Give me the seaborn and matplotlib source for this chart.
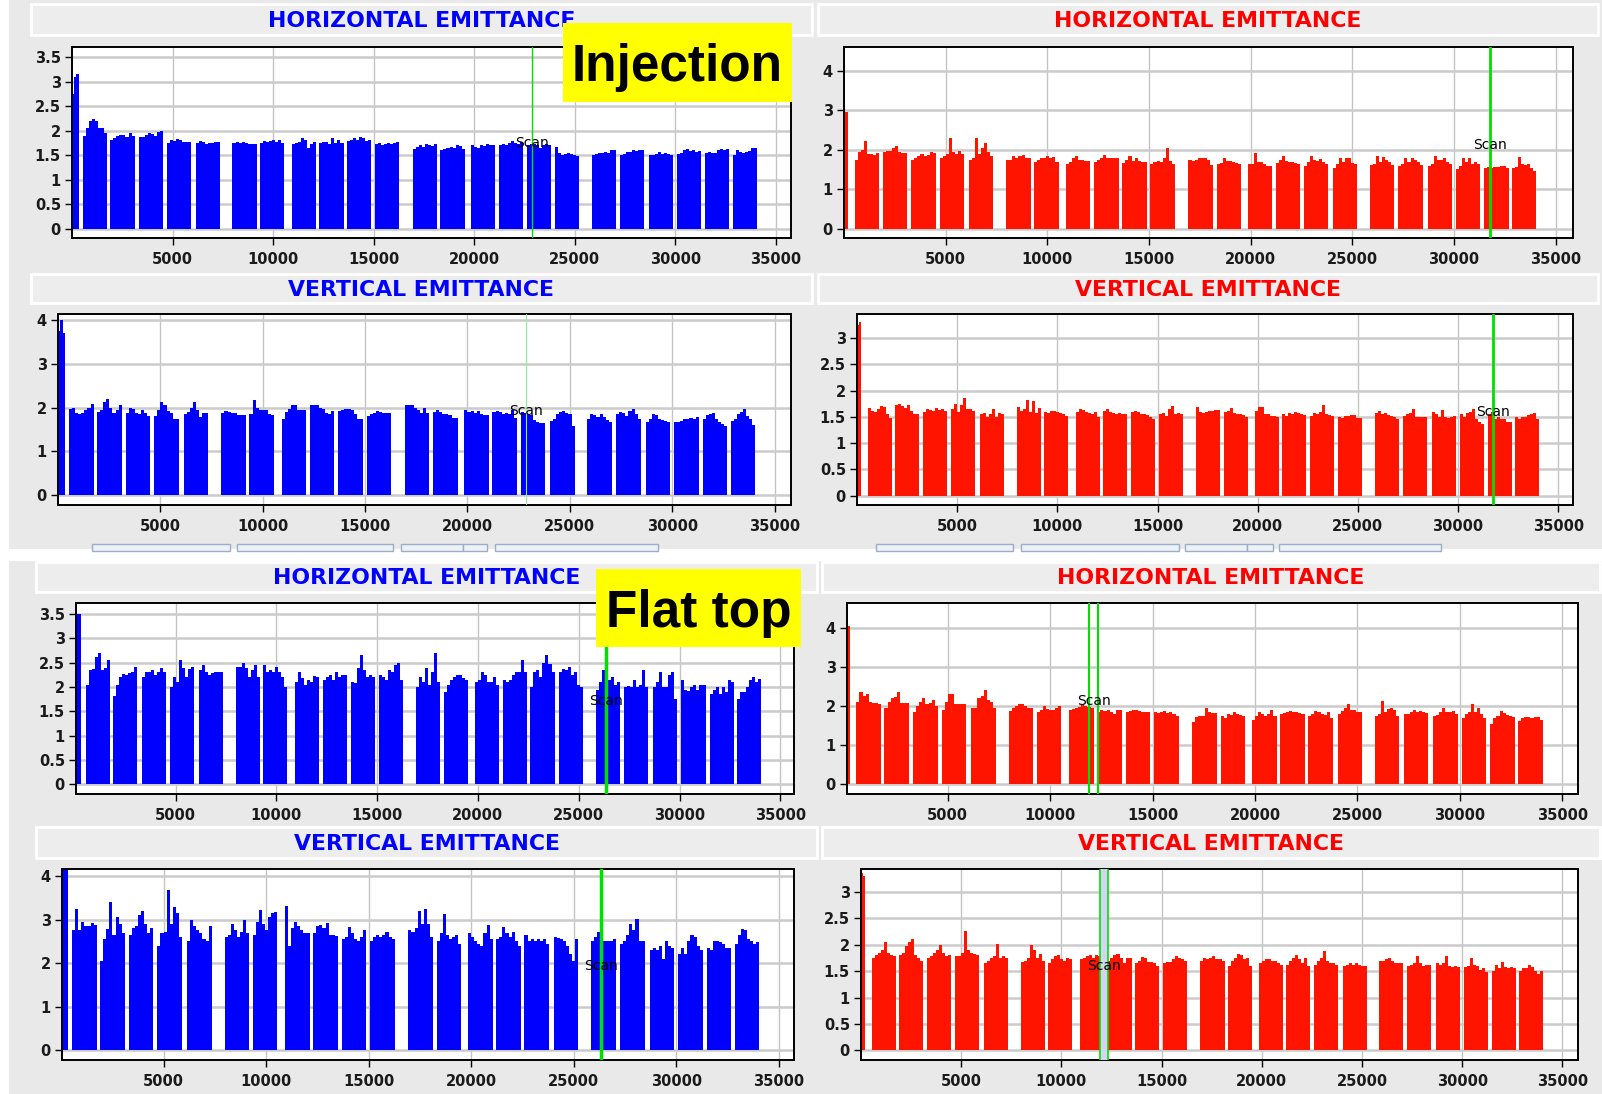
import numpy as np
import pandas as pd
import matplotlib
matplotlib.use("Agg")
import matplotlib.pyplot as plt
import seaborn as sns
from matplotlib.patches import Rectangle
from matplotlib.ticker import FuncFormatter

sns.set_theme(style="whitegrid")
plt.rcParams["font.family"] = ["DejaVu Sans"]

# ---------------------------------------------------------------- data
# start slot of every injected batch (same filling scheme for both beams)
batch_start = [540, 1910, 3310, 4700, 6150, 7980, 9350, 10920, 12300, 13690,
               15070, 16940, 18320, 19850, 21220, 22600, 24030, 25850, 27260,
               28700, 30090, 31490, 32850]
batch_width = 1200
x_ticks = [5000, 10000, 15000, 20000, 25000, 30000, 35000]

# pilot bunches at the start of the ring
pilot_span_b1 = (0, 330)
pilot_span_b2 = (0, 210)

# ---- Injection, horizontal, beam 1
inj_h_b1_pilot = [2.75, 3.1, 3.15]
inj_h_b1 = [
    [1.9, 2.05, 2.2, 2.25, 2.2, 2.05, 2.05, 1.95],
    [1.82, 1.85, 1.9, 1.92, 1.92, 1.88, 1.95, 1.9],
    [1.87, 1.88, 1.92, 1.95, 1.93, 1.9, 1.97, 2.0],
    [1.75, 1.82, 1.8, 1.83, 1.82, 1.78, 1.77, 1.77],
    [1.75, 1.8, 1.77, 1.73, 1.76, 1.75, 1.77, 1.77],
    [1.75, 1.77, 1.76, 1.78, 1.74, 1.73, 1.72, 1.73],
    [1.75, 1.8, 1.78, 1.8, 1.82, 1.78, 1.82, 1.75],
    [1.72, 1.74, 1.78, 1.85, 1.82, 1.65, 1.72, 1.77],
    [1.75, 1.77, 1.77, 1.72, 1.85, 1.76, 1.82, 1.75],
    [1.8, 1.82, 1.85, 1.82, 1.87, 1.85, 1.8, 1.82],
    [1.72, 1.75, 1.7, 1.72, 1.76, 1.72, 1.75, 1.77],
    [1.63, 1.67, 1.7, 1.67, 1.72, 1.7, 1.68, 1.73],
    [1.6, 1.63, 1.65, 1.67, 1.65, 1.7, 1.68, 1.62],
    [1.7, 1.67, 1.65, 1.7, 1.68, 1.72, 1.7, 1.7],
    [1.7, 1.72, 1.7, 1.75, 1.8, 1.75, 1.72, 1.78],
    [1.7, 1.72, 1.73, 1.7, 1.65, 1.7, 1.72, 1.7],
    [1.67, 1.55, 1.5, 1.53, 1.55, 1.52, 1.5, 1.48],
    [1.5, 1.53, 1.55, 1.55, 1.57, 1.55, 1.6, 1.6],
    [1.5, 1.53, 1.57, 1.57, 1.6, 1.58, 1.6, 1.6],
    [1.5, 1.5, 1.52, 1.57, 1.53, 1.55, 1.52, 1.5],
    [1.53, 1.55, 1.6, 1.62, 1.58, 1.6, 1.57, 1.58],
    [1.55, 1.57, 1.55, 1.55, 1.6, 1.62, 1.6, 1.62],
    [1.5, 1.6, 1.57, 1.55, 1.57, 1.58, 1.65, 1.65],
]

# ---- Injection, horizontal, beam 2
inj_h_b2_pilot = [2.97, 2.97]
inj_h_b2 = [
    [1.75, 1.95, 2.0, 2.23, 1.9, 1.9, 1.88, 1.92],
    [1.95, 1.97, 1.97, 2.05, 2.1, 1.95, 1.93, 1.93],
    [1.75, 1.8, 1.85, 1.9, 1.85, 1.88, 1.95, 1.93],
    [1.8, 1.85, 1.9, 2.3, 1.95, 1.9, 1.97, 1.9],
    [1.75, 1.78, 2.3, 1.9, 2.05, 2.18, 1.95, 1.85],
    [1.73, 1.75, 1.83, 1.78, 1.85, 1.87, 1.8, 1.8],
    [1.7, 1.75, 1.8, 1.78, 1.83, 1.8, 1.82, 1.68],
    [1.65, 1.7, 1.78, 1.83, 1.75, 1.75, 1.72, 1.72],
    [1.7, 1.75, 1.8, 1.88, 1.8, 1.78, 1.78, 1.78],
    [1.67, 1.73, 1.85, 1.72, 1.8, 1.72, 1.7, 1.7],
    [1.65, 1.7, 1.72, 1.68, 1.78, 2.05, 1.72, 1.65],
    [1.73, 1.72, 1.75, 1.8, 1.78, 1.8, 1.75, 1.62],
    [1.65, 1.67, 1.8, 1.72, 1.72, 1.7, 1.67, 1.63],
    [1.65, 1.65, 1.93, 1.7, 1.68, 1.65, 1.6, 1.6],
    [1.67, 1.75, 1.85, 1.72, 1.7, 1.7, 1.67, 1.65],
    [1.6, 1.7, 1.85, 1.75, 1.72, 1.77, 1.7, 1.63],
    [1.55, 1.65, 1.78, 1.7, 1.8, 1.78, 1.67, 1.65],
    [1.62, 1.63, 1.85, 1.7, 1.82, 1.75, 1.7, 1.62],
    [1.6, 1.65, 1.8, 1.7, 1.8, 1.75, 1.7, 1.62],
    [1.6, 1.65, 1.83, 1.73, 1.75, 1.8, 1.68, 1.65],
    [1.52, 1.6, 1.78, 1.68, 1.8, 1.65, 1.7, 1.65],
    [1.55, 1.57, 1.55, 1.57, 1.57, 1.58, 1.58, 1.55],
    [1.55, 1.57, 1.82, 1.65, 1.62, 1.65, 1.55, 1.45],
]

# ---- Injection, vertical, beam 1
inj_v_b1_pilot = [3.75, 4.0, 3.7]
inj_v_b1 = [
    [1.97, 2.0, 1.88, 1.85, 1.87, 1.95, 2.0, 2.07],
    [1.9, 1.95, 2.12, 2.2, 2.0, 1.88, 1.95, 2.05],
    [1.88, 2.0, 1.97, 1.88, 1.85, 1.95, 1.88, 1.8],
    [1.8, 1.95, 2.12, 2.05, 1.92, 1.88, 1.75, 1.73],
    [1.85, 1.9, 2.0, 2.12, 1.95, 1.78, 1.88, 1.88],
    [1.88, 1.93, 1.9, 1.87, 1.87, 1.82, 1.83, 1.83],
    [1.85, 2.18, 2.0, 1.95, 1.95, 1.95, 1.85, 1.83],
    [1.75, 1.9, 1.97, 2.05, 2.05, 1.95, 1.95, 1.95],
    [2.05, 2.05, 2.05, 2.0, 1.97, 1.87, 1.85, 1.93],
    [1.92, 1.95, 1.97, 1.97, 1.95, 1.85, 1.75, 1.75],
    [1.8, 1.85, 1.88, 1.92, 1.9, 1.87, 1.87, 1.88],
    [2.05, 2.05, 2.05, 2.0, 1.95, 1.88, 1.98, 1.88],
    [1.9, 1.95, 1.9, 1.85, 1.85, 1.83, 1.77, 1.77],
    [1.95, 1.9, 1.92, 1.87, 1.92, 1.85, 1.83, 1.83],
    [1.9, 1.93, 1.9, 1.85, 1.88, 1.85, 1.95, 1.77],
    [1.9, 1.88, 1.85, 1.82, 1.72, 1.68, 1.65, 1.65],
    [1.7, 1.75, 1.85, 1.9, 1.92, 1.88, 1.85, 1.57],
    [1.73, 1.85, 1.83, 1.78, 1.85, 1.78, 1.72, 1.68],
    [1.85, 1.9, 1.88, 1.8, 1.93, 1.97, 1.85, 1.75],
    [1.68, 1.75, 1.85, 1.83, 1.75, 1.72, 1.7, 1.68],
    [1.68, 1.68, 1.7, 1.75, 1.73, 1.77, 1.75, 1.78],
    [1.75, 1.82, 1.85, 1.88, 1.75, 1.68, 1.62, 1.57],
    [1.7, 1.73, 1.85, 1.9, 1.97, 1.8, 1.75, 1.6],
]

# ---- Injection, vertical, beam 2
inj_v_b2_pilot = [3.25, 3.3]
inj_v_b2 = [
    [1.67, 1.62, 1.6, 1.65, 1.7, 1.68, 1.55, 1.48],
    [1.72, 1.75, 1.7, 1.67, 1.73, 1.62, 1.55, 1.55],
    [1.6, 1.65, 1.63, 1.62, 1.67, 1.63, 1.65, 1.62],
    [1.65, 1.75, 1.6, 1.72, 1.85, 1.65, 1.65, 1.62],
    [1.55, 1.58, 1.5, 1.55, 1.65, 1.5, 1.57, 1.55],
    [1.68, 1.62, 1.65, 1.82, 1.6, 1.8, 1.58, 1.67],
    [1.6, 1.58, 1.62, 1.62, 1.6, 1.58, 1.55, 1.52],
    [1.6, 1.65, 1.63, 1.6, 1.58, 1.55, 1.6, 1.5],
    [1.62, 1.65, 1.6, 1.58, 1.55, 1.57, 1.55, 1.55],
    [1.6, 1.62, 1.6, 1.55, 1.55, 1.53, 1.5, 1.45],
    [1.55, 1.58, 1.52, 1.65, 1.7, 1.55, 1.58, 1.55],
    [1.68, 1.6, 1.58, 1.6, 1.62, 1.62, 1.63, 1.63],
    [1.6, 1.62, 1.67, 1.58, 1.55, 1.55, 1.53, 1.5],
    [1.62, 1.68, 1.68, 1.55, 1.55, 1.52, 1.52, 1.5],
    [1.55, 1.52, 1.58, 1.55, 1.6, 1.58, 1.55, 1.53],
    [1.52, 1.58, 1.55, 1.6, 1.72, 1.55, 1.53, 1.52],
    [1.5, 1.48, 1.52, 1.52, 1.53, 1.53, 1.48, 1.48],
    [1.58, 1.62, 1.55, 1.58, 1.53, 1.52, 1.5, 1.45],
    [1.52, 1.55, 1.57, 1.65, 1.5, 1.5, 1.5, 1.5],
    [1.6, 1.55, 1.5, 1.63, 1.5, 1.48, 1.5, 1.52],
    [1.55, 1.5, 1.57, 1.6, 1.65, 1.45, 1.4, 1.37],
    [1.55, 1.6, 1.45, 1.5, 1.45, 1.45, 1.4, 1.4],
    [1.5, 1.45, 1.5, 1.5, 1.53, 1.55, 1.58, 1.45],
]

# ---- Flat top, horizontal, beam 1
ft_h_b1_pilot = [3.1, 3.5, 3.5]
ft_h_b1 = [
    [2.05, 2.35, 2.38, 2.62, 2.7, 2.35, 2.4, 2.55],
    [1.82, 2.05, 2.2, 2.27, 2.25, 2.28, 2.32, 2.42],
    [2.2, 2.32, 2.32, 2.35, 2.25, 2.3, 2.4, 2.32],
    [2.0, 2.2, 2.1, 2.55, 2.4, 2.2, 2.38, 2.42],
    [2.35, 2.45, 2.3, 2.25, 2.28, 2.3, 2.32, 2.3],
    [2.42, 2.42, 2.5, 2.4, 2.2, 2.35, 2.45, 2.2],
    [2.45, 2.3, 2.35, 2.32, 2.42, 2.3, 2.2, 2.0],
    [2.1, 2.3, 2.18, 2.05, 2.15, 2.1, 2.22, 2.2],
    [2.15, 2.2, 2.25, 2.15, 2.3, 2.2, 2.25, 2.25],
    [2.1, 2.08, 2.4, 2.65, 2.35, 2.2, 2.25, 2.2],
    [2.25, 2.2, 2.15, 2.35, 2.3, 2.45, 2.5, 2.15],
    [2.0, 2.2, 2.1, 2.4, 2.05, 2.3, 2.7, 2.1],
    [1.9, 2.05, 2.15, 2.2, 2.25, 2.25, 2.18, 2.15],
    [2.1, 2.15, 2.3, 2.25, 2.1, 2.1, 2.2, 2.05],
    [2.15, 2.1, 2.15, 2.25, 2.3, 2.3, 2.55, 2.3],
    [2.0, 2.3, 2.35, 2.2, 2.5, 2.65, 2.48, 2.3],
    [2.3, 2.38, 2.35, 2.42, 2.25, 2.3, 2.05, 2.0],
    [1.95, 2.1, 2.35, 2.25, 2.15, 2.2, 2.05, 2.1],
    [2.0, 2.02, 2.0, 2.15, 2.0, 2.05, 2.35, 2.0],
    [2.0, 2.1, 2.3, 2.0, 2.0, 2.25, 2.3, 1.75],
    [2.15, 1.95, 1.92, 2.0, 2.05, 1.95, 2.05, 2.05],
    [1.85, 1.95, 2.0, 1.85, 2.0, 1.9, 2.15, 2.1],
    [1.75, 1.9, 1.9, 2.0, 2.15, 2.2, 2.1, 2.17],
]

# ---- Flat top, horizontal, beam 2
ft_h_b2_pilot = [4.0, 4.05]
ft_h_b2 = [
    [2.1, 2.35, 2.25, 2.3, 2.1, 2.08, 2.08, 2.05],
    [1.95, 2.1, 2.2, 2.22, 2.35, 2.08, 2.08, 2.08],
    [1.85, 2.0, 2.1, 2.2, 2.05, 2.08, 2.15, 2.0],
    [1.9, 2.1, 2.3, 2.3, 2.05, 2.05, 2.05, 2.05],
    [1.95, 1.95, 2.2, 2.25, 2.4, 2.15, 2.1, 1.95],
    [1.88, 1.95, 2.0, 2.05, 2.05, 2.0, 1.95, 1.95],
    [1.85, 1.9, 2.0, 1.93, 1.9, 1.9, 1.95, 2.0],
    [1.9, 1.92, 1.95, 1.98, 2.05, 2.0, 1.97, 1.95],
    [1.85, 1.9, 1.88, 1.9, 1.85, 1.8, 1.9, 1.9],
    [1.85, 1.88, 1.9, 1.9, 1.88, 1.85, 1.85, 1.85],
    [1.85, 1.82, 1.85, 1.87, 1.82, 1.85, 1.8, 1.75],
    [1.6, 1.72, 1.75, 1.75, 1.95, 1.85, 1.82, 1.82],
    [1.75, 1.7, 1.8, 1.78, 1.85, 1.8, 1.78, 1.75],
    [1.65, 1.75, 1.85, 1.8, 1.75, 1.8, 1.9, 1.75],
    [1.8, 1.82, 1.85, 1.87, 1.85, 1.85, 1.83, 1.8],
    [1.75, 1.8, 1.88, 1.85, 1.8, 1.78, 1.85, 1.7],
    [1.8, 1.88, 1.95, 2.05, 1.9, 1.9, 1.85, 1.85],
    [1.75, 1.8, 2.12, 1.85, 1.92, 1.95, 1.9, 1.75],
    [1.8, 1.8, 1.85, 1.9, 1.85, 1.88, 1.85, 1.82],
    [1.75, 1.78, 1.85, 1.95, 1.85, 1.85, 1.88, 1.8],
    [1.7, 1.8, 1.85, 2.05, 1.85, 1.95, 1.8, 1.7],
    [1.55, 1.7, 1.75, 1.88, 1.82, 1.78, 1.75, 1.72],
    [1.62, 1.68, 1.72, 1.72, 1.7, 1.72, 1.72, 1.65],
]

# ---- Flat top, vertical, beam 1
ft_v_b1_pilot = [4.3, 4.3, 4.3]
ft_v_b1 = [
    [2.75, 3.25, 2.75, 2.95, 2.85, 2.85, 2.92, 2.88],
    [2.05, 2.55, 2.78, 3.4, 2.65, 3.05, 2.9, 2.7],
    [2.65, 2.8, 2.85, 3.1, 3.2, 2.9, 2.7, 2.8],
    [2.4, 2.7, 2.72, 3.68, 2.9, 3.28, 3.15, 2.6],
    [2.5, 3.0, 2.85, 2.75, 2.7, 2.55, 2.5, 2.85],
    [2.6, 2.65, 2.9, 2.75, 2.6, 2.72, 3.0, 2.7],
    [2.65, 2.95, 3.22, 2.9, 2.75, 3.05, 3.15, 3.18],
    [3.32, 2.4, 2.8, 2.95, 2.85, 2.75, 2.7, 2.7],
    [2.7, 2.85, 2.88, 2.8, 2.92, 2.65, 2.65, 2.62],
    [2.55, 2.6, 2.82, 2.7, 2.55, 2.5, 2.6, 2.75],
    [2.5, 2.6, 2.65, 2.6, 2.65, 2.72, 2.6, 2.55],
    [2.75, 2.72, 2.8, 3.2, 2.9, 3.25, 2.9, 2.6],
    [2.5, 2.7, 3.12, 2.65, 2.55, 2.6, 2.65, 2.45],
    [2.7, 2.6, 2.5, 2.45, 2.4, 2.7, 2.88, 2.55],
    [2.55, 2.6, 2.82, 2.7, 2.6, 2.72, 2.5, 2.4],
    [2.65, 2.5, 2.55, 2.5, 2.55, 2.5, 2.55, 2.45],
    [2.6, 2.58, 2.55, 2.5, 2.4, 2.2, 2.05, 2.55],
    [2.5, 2.6, 2.72, 2.4, 2.5, 2.5, 2.5, 2.55],
    [2.45, 2.5, 2.65, 2.9, 2.75, 3.02, 2.5, 2.5],
    [2.3, 2.35, 2.3, 2.4, 2.1, 2.5, 2.4, 2.35],
    [2.2, 2.35, 2.2, 2.5, 2.65, 2.6, 2.4, 2.3],
    [2.35, 2.3, 2.5, 2.5, 2.48, 2.45, 2.35, 2.35],
    [2.45, 2.65, 2.78, 2.75, 2.55, 2.5, 2.45, 2.48],
]

# ---- Flat top, vertical, beam 2
ft_v_b2_pilot = [3.35, 3.3]
ft_v_b2 = [
    [1.75, 1.8, 1.85, 1.9, 2.05, 1.85, 1.8, 1.78],
    [1.8, 1.85, 1.98, 2.05, 2.1, 1.8, 1.75, 1.7],
    [1.75, 1.78, 1.85, 1.9, 2.0, 1.85, 1.78, 1.8],
    [1.78, 1.78, 1.85, 2.25, 1.9, 1.85, 1.83, 1.8],
    [1.65, 1.7, 1.75, 1.78, 2.02, 1.75, 1.78, 1.75],
    [1.68, 1.7, 1.75, 2.0, 1.9, 1.75, 1.83, 1.7],
    [1.65, 1.72, 1.78, 1.8, 1.72, 1.7, 1.75, 1.72],
    [1.72, 1.75, 1.78, 1.8, 1.75, 1.8, 1.78, 1.75],
    [1.7, 1.75, 1.8, 1.83, 1.75, 1.65, 1.75, 1.75],
    [1.65, 1.7, 1.77, 1.75, 1.68, 1.68, 1.65, 1.6],
    [1.65, 1.68, 1.68, 1.72, 1.78, 1.75, 1.72, 1.7],
    [1.7, 1.75, 1.72, 1.75, 1.78, 1.72, 1.72, 1.7],
    [1.6, 1.7, 1.75, 1.82, 1.8, 1.72, 1.75, 1.6],
    [1.65, 1.7, 1.72, 1.72, 1.7, 1.7, 1.65, 1.62],
    [1.62, 1.7, 1.75, 1.8, 1.72, 1.65, 1.75, 1.6],
    [1.62, 1.7, 1.75, 1.88, 1.7, 1.65, 1.65, 1.62],
    [1.6, 1.62, 1.65, 1.62, 1.65, 1.62, 1.6, 1.6],
    [1.7, 1.7, 1.72, 1.75, 1.7, 1.65, 1.65, 1.65],
    [1.6, 1.62, 1.65, 1.78, 1.65, 1.6, 1.62, 1.62],
    [1.65, 1.62, 1.65, 1.78, 1.6, 1.58, 1.6, 1.58],
    [1.58, 1.6, 1.75, 1.62, 1.6, 1.52, 1.55, 1.48],
    [1.5, 1.62, 1.55, 1.68, 1.58, 1.55, 1.58, 1.55],
    [1.5, 1.55, 1.55, 1.62, 1.58, 1.5, 1.45, 1.5],
]

# slot positions of the scan marker (one or two lines per panel)
scan_inj_b1 = [22850]
scan_inj_b2 = [31750]
scan_ft_b1 = [26340]
scan_ft_b2 = [11905, 12330]

# ---------------------------------------------------------------- style
BLUE = "#0000ff"
RED = "#ff1400"
GREEN = "#00e000"
BG = "#e9e9e9"
W, H = 1602, 1094


def fig_box(x0, y0, x1, y1):
    """pixel box (top-down) -> figure fraction [l, b, w, h]"""
    return [x0 / W, 1 - y1 / H, (x1 - x0) / W, (y1 - y0) / H]


def bunch_trains(pilot_vals, pilot_span, batches):
    """one (edges, values) step profile per train, pilot first"""
    trains = [(np.linspace(pilot_span[0], pilot_span[1], len(pilot_vals) + 1),
               np.asarray(pilot_vals, dtype=float))]
    for start, vals in zip(batch_start, batches):
        trains.append((np.linspace(start, start + batch_width, len(vals) + 1),
                       np.asarray(vals, dtype=float)))
    return trains


fig = plt.figure(figsize=(W / 100, H / 100), dpi=100, facecolor="white")

# grey application frames
for (x0, y0, x1, y1) in [(9, 0, W, 549), (9, 561, W, H)]:
    fig.patches.append(Rectangle((x0 / W, 1 - y1 / H), (x1 - x0) / W, (y1 - y0) / H,
                                 transform=fig.transFigure, facecolor=BG,
                                 edgecolor="none", zorder=-20))

# partly hidden button row under the upper frame
for (x0, x1) in [(92, 230), (237, 393), (401, 463), (463, 487), (495, 658),
                 (876, 1013), (1021, 1179), (1185, 1247), (1247, 1273), (1279, 1441)]:
    fig.patches.append(Rectangle((x0 / W, 1 - 551 / H), (x1 - x0) / W, 7 / H,
                                 transform=fig.transFigure, facecolor="#eef2f7",
                                 edgecolor="#9aaec6", linewidth=1.0, zorder=-15))

panels = [
    dict(title="HORIZONTAL EMITTANCE", tcol=BLUE, tbox=(31, 4, 812, 35),
         ax=(72, 47, 791, 238), xlim=(0, 35750), ylim=(-0.19, 3.71), ystep=0.5,
         pilot=inj_h_b1_pilot, span=pilot_span_b1, data=inj_h_b1, color=BLUE,
         scan=scan_inj_b1, lw=1.0, lcol=GREEN, band=False, scan_y=1.74),
    dict(title="HORIZONTAL EMITTANCE", tcol="#ff0000", tbox=(818, 4, 1598, 35),
         ax=(844, 47, 1573, 238), xlim=(0, 35850), ylim=(-0.24, 4.61), ystep=1,
         pilot=inj_h_b2_pilot, span=pilot_span_b2, data=inj_h_b2, color=RED,
         scan=scan_inj_b2, lw=2.0, lcol=GREEN, band=False, scan_y=2.12),
    dict(title="VERTICAL EMITTANCE", tcol=BLUE, tbox=(31, 274, 812, 303),
         ax=(58, 314, 791, 505), xlim=(0, 35800), ylim=(-0.22, 4.13), ystep=1,
         pilot=inj_v_b1_pilot, span=pilot_span_b1, data=inj_v_b1, color=BLUE,
         scan=scan_inj_b1, lw=0.8, lcol="#8ef08e", band=False, scan_y=1.91),
    dict(title="VERTICAL EMITTANCE", tcol="#ff0000", tbox=(818, 274, 1598, 303),
         ax=(857, 314, 1573, 505), xlim=(0, 35740), ylim=(-0.18, 3.46), ystep=0.5,
         pilot=inj_v_b2_pilot, span=pilot_span_b2, data=inj_v_b2, color=RED,
         scan=scan_inj_b2, lw=2.0, lcol=GREEN, band=False, scan_y=1.6),
    dict(title="HORIZONTAL EMITTANCE", tcol=BLUE, tbox=(36, 562, 817, 592),
         ax=(76, 603, 794, 794), xlim=(60, 35680), ylim=(-0.2, 3.73), ystep=0.5,
         pilot=ft_h_b1_pilot, span=pilot_span_b1, data=ft_h_b1, color=BLUE,
         scan=scan_ft_b1, lw=2.5, lcol=GREEN, band=False, scan_y=1.71),
    dict(title="HORIZONTAL EMITTANCE", tcol="#ff0000", tbox=(822, 562, 1600, 592),
         ax=(847, 603, 1578, 794), xlim=(80, 35770), ylim=(-0.25, 4.63), ystep=1,
         pilot=ft_h_b2_pilot, span=pilot_span_b2, data=ft_h_b2, color=RED,
         scan=scan_ft_b2, lw=1.5, lcol=GREEN, band=False, scan_y=2.13),
    dict(title="VERTICAL EMITTANCE", tcol=BLUE, tbox=(36, 827, 817, 858),
         ax=(62, 869, 794, 1060), xlim=(50, 35740), ylim=(-0.22, 4.16), ystep=1,
         pilot=ft_v_b1_pilot, span=pilot_span_b1, data=ft_v_b1, color=BLUE,
         scan=scan_ft_b1, lw=2.5, lcol=GREEN, band=False, scan_y=1.94),
    dict(title="VERTICAL EMITTANCE", tcol="#ff0000", tbox=(822, 827, 1600, 858),
         ax=(861, 869, 1578, 1060), xlim=(0, 35780), ylim=(-0.18, 3.43), ystep=0.5,
         pilot=ft_v_b2_pilot, span=pilot_span_b2, data=ft_v_b2, color=RED,
         scan=scan_ft_b2, lw=1.2, lcol=GREEN, band=True, scan_y=1.6),
]

tick_fmt = FuncFormatter(lambda v, _: f"{v:g}")

for p in panels:
    # title strip
    x0, y0, x1, y1 = p["tbox"]
    fig.patches.append(Rectangle((x0 / W, 1 - y1 / H), (x1 - x0) / W, (y1 - y0) / H,
                                 transform=fig.transFigure, facecolor="#ededed",
                                 edgecolor="white", linewidth=2.0, zorder=-10))
    fig.text((x0 + x1) / 2 / W, 1 - ((y0 + y1) / 2 + 1.5) / H, p["title"],
             ha="center", va="center", color=p["tcol"], fontsize=15.8,
             fontweight="bold", zorder=-5)

    ax = fig.add_axes(fig_box(*p["ax"]))
    ax.set_facecolor("white")
    # every train is one filled step outline, bunch by bunch
    for edges, vals in bunch_trains(p["pilot"], p["span"], p["data"]):
        ax.stairs(vals, edges, baseline=0, fill=True, color=p["color"],
                  linewidth=0, zorder=2)

    # scan marker
    if p["band"]:
        ax.axvspan(p["scan"][0], p["scan"][1], color="#d4d4f6", zorder=3, lw=0)
    for xs in p["scan"]:
        ax.axvline(xs, color=p["lcol"], lw=p["lw"], zorder=4)
    ax.text(np.mean(p["scan"]), p["scan_y"], "Scan", ha="center", va="center",
            fontsize=10, color="black", zorder=5)

    ax.set_xlim(*p["xlim"])
    ax.set_ylim(*p["ylim"])
    ax.set_xticks(x_ticks)
    ymax_tick = np.floor(p["ylim"][1] / p["ystep"]) * p["ystep"]
    ax.set_yticks(np.arange(0, ymax_tick + 1e-9, p["ystep"]))
    ax.yaxis.set_major_formatter(tick_fmt)
    ax.set_xlabel("")
    ax.set_ylabel("")
    ax.set_axisbelow(True)
    ax.grid(axis="x", color="#c4c4c4", lw=1.0)
    ax.grid(axis="y", color="#cbcbcb", lw=1.8)
    for s in ax.spines.values():
        s.set_color("black")
        s.set_linewidth(1.4)
    ax.tick_params(axis="both", which="major", direction="out", length=5,
                   width=1.0, color="black", labelsize=10.5, labelcolor="#1a1a1a",
                   bottom=True, left=True)
    ax.tick_params(axis="y", pad=3)
    ax.tick_params(axis="x", pad=5)
    for lab in ax.get_xticklabels() + ax.get_yticklabels():
        lab.set_fontweight("bold")

# phase labels on yellow cards
for (x0, y0, x1, y1, label) in [(563, 23, 792, 102, "Injection"),
                                (596, 569, 801, 647, "Flat top")]:
    fig.patches.append(Rectangle((x0 / W, 1 - y1 / H), (x1 - x0) / W, (y1 - y0) / H,
                                 transform=fig.transFigure, facecolor="#ffff00",
                                 edgecolor="none", zorder=20))
    fig.text((x0 + x1) / 2 / W, 1 - ((y0 + y1) / 2 + 19) / H, label,
             ha="center", va="baseline", fontsize=37, fontweight="bold",
             family=["Liberation Sans", "DejaVu Sans"], color="black", zorder=21)

fig.savefig("out.png", dpi=100, facecolor="white")
